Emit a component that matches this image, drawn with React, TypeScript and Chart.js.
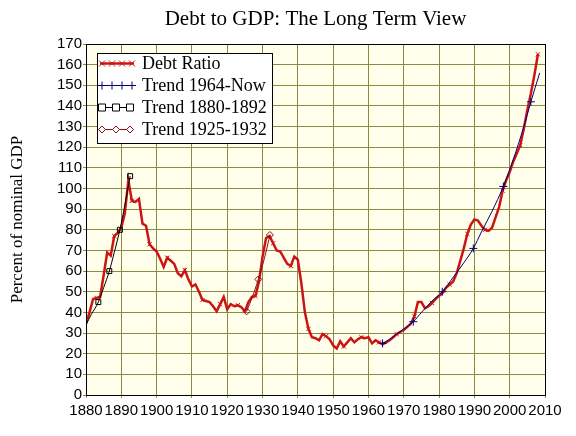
import React, { useEffect, useRef } from "react";
import { Chart, registerables } from "chart.js";

Chart.register(...registerables);

// Federal debt as a percent of nominal GDP
const debtYears = [
  1880, 1881, 1882, 1883, 1884, 1885, 1886, 1887, 1888, 1889,
  1890, 1891, 1892, 1893, 1894, 1895, 1896, 1897, 1898, 1899,
  1900, 1901, 1902, 1903, 1904, 1905, 1906, 1907, 1908, 1909,
  1910, 1911, 1912, 1913, 1914, 1915, 1916, 1917, 1918, 1919,
  1920, 1921, 1922, 1923, 1924, 1925, 1926, 1927, 1928, 1929,
  1930, 1931, 1932, 1933, 1934, 1935, 1936, 1937, 1938, 1939,
  1940, 1941, 1942, 1943, 1944, 1945, 1946, 1947, 1948, 1949,
  1950, 1951, 1952, 1953, 1954, 1955, 1956, 1957, 1958, 1959,
  1960, 1961, 1962, 1963, 1964, 1965, 1966, 1967, 1968, 1969,
  1970, 1971, 1972, 1973, 1974, 1975, 1976, 1977, 1978, 1979,
  1980, 1981, 1982, 1983, 1984, 1985, 1986, 1987, 1988, 1989,
  1990, 1991, 1992, 1993, 1994, 1995, 1996, 1997, 1998, 1999,
  2000, 2001, 2002, 2003, 2004, 2005, 2006, 2007, 2008,
];
const debtRatio = [
  34.5, 40, 46.5, 47, 47.5, 58, 69, 67.5, 77, 78.5,
  81, 88, 104, 94, 93.5, 95, 83, 82, 73, 71,
  69.5, 66, 62, 66.5, 65, 63.5, 59, 57.5, 60.5, 56,
  52.5, 53.5, 50, 46, 45.5, 45, 43, 40.5, 44, 47.5,
  41.5, 44, 43, 43.5, 42.5, 40.5, 45, 47.5, 48, 55,
  67, 76, 77, 73.5, 70, 69.5, 66.5, 63.5, 62.5, 67,
  65.5, 54, 40, 32, 28, 27.5, 26.5, 29.5, 28.5, 27,
  24, 22.5, 26, 23.5, 25.5, 27.5, 25.5, 27, 28, 27.5,
  28, 25, 26.5, 25.5, 24.5, 25.5, 26.5, 28, 29.5, 30.5,
  31.5, 33, 34.5, 38, 45, 45, 42, 43, 44.5, 46.5,
  48, 49.5, 52, 53.5, 55, 59, 65, 71, 78, 82.5,
  85, 84.5, 82, 80, 79.5, 81, 86, 91, 99, 104,
  108, 113, 117, 121, 129, 138, 146, 155, 165,
];

// Fitted trend, 1964 to the present
const trendNowYears = [1964, 1966, 1968, 1970, 1972.7, 1975, 1978, 1980.9, 1984, 1987, 1989.7, 1992, 1995, 1998.2, 2001, 2004, 2006, 2008.5];
const trendNowValues = [25, 27, 29.5, 32, 35.5, 40, 45.5, 50, 57, 64, 71, 79, 89, 101, 114, 130, 142, 156];
const trendNowMarks = [1964, 1972.7, 1980.9, 1989.7, 1998.2, 2006];

// Fitted trend, 1880 to 1892
const trend1880Years = [1880, 1881.5, 1883.5, 1885, 1886.6, 1888, 1889.6, 1891, 1892.5];
const trend1880Values = [34, 39, 45, 52, 60, 69, 80, 92, 106];
const trend1880Marks = [1883.5, 1886.6, 1889.6, 1892.5];

// Fitted trend, 1925 to 1932
const trend1925Years = [1925.5, 1927, 1928.8, 1930.5, 1932.1];
const trend1925Values = [40.5, 47, 56, 66, 77.5];
const trend1925Marks = [1925.5, 1928.8, 1932.1];

const xTicks = [1880, 1890, 1900, 1910, 1920, 1930, 1940, 1950, 1960, 1970, 1980, 1990, 2000, 2010];

const chartTitle = "Debt to GDP: The Long Term View";
const yTitle = "Percent of nominal GDP";
const legendLabels = ["Debt Ratio", "Trend 1964-Now", "Trend 1880-1892", "Trend 1925-1932"];

const RED = "#CC1414";
const NAVY = "#00007A";
const MAROON = "#8A1010";
const GRID = "#8C8A3C";
const PLOT_BG = "#FFFFEC";
const SERIF = "'Liberation Serif', 'Times New Roman', serif";
const SANS = "'Liberation Sans', Arial, sans-serif";

const toPoints = (xs: number[], ys: number[]) => xs.map((x, i) => ({ x, y: ys[i] }));

function drawMarker(ctx: CanvasRenderingContext2D, kind: string, x: number, y: number, color: string) {
  ctx.save();
  ctx.strokeStyle = color;
  ctx.lineWidth = 1;
  ctx.beginPath();
  if (kind === "x") {
    ctx.moveTo(x - 3, y - 3); ctx.lineTo(x + 3, y + 3);
    ctx.moveTo(x + 3, y - 3); ctx.lineTo(x - 3, y + 3);
  } else if (kind === "+") {
    ctx.moveTo(x - 4, y); ctx.lineTo(x + 4, y);
    ctx.moveTo(x, y - 4); ctx.lineTo(x, y + 4);
  } else if (kind === "square") {
    ctx.fillStyle = "#ffffff";
    ctx.rect(x - 3.5, y - 3.5, 7, 7);
    ctx.fill();
  } else if (kind === "diamond") {
    ctx.fillStyle = "#ffffff";
    ctx.moveTo(x, y - 3.5); ctx.lineTo(x + 3.5, y); ctx.lineTo(x, y + 3.5); ctx.lineTo(x - 3.5, y); ctx.closePath();
    ctx.fill();
  }
  ctx.stroke();
  ctx.restore();
}

const frameAndTextPlugin = {
  id: "frameAndText",
  beforeDraw(chart: any) {
    const { ctx, chartArea: a } = chart;
    ctx.save();
    ctx.fillStyle = "#ffffff";
    ctx.fillRect(0, 0, chart.width, chart.height);
    ctx.fillStyle = PLOT_BG;
    ctx.fillRect(a.left, a.top, a.right - a.left, a.bottom - a.top);
    ctx.restore();
  },
  afterDraw(chart: any) {
    const { ctx, chartArea: a } = chart;
    ctx.save();
    // plot frame
    ctx.strokeStyle = "#000000";
    ctx.lineWidth = 1;
    ctx.strokeRect(Math.round(a.left) + 0.5, Math.round(a.top) + 0.5, Math.round(a.right - a.left), Math.round(a.bottom - a.top));

    // title
    ctx.fillStyle = "#000000";
    ctx.font = `21px ${SERIF}`;
    ctx.textAlign = "center";
    ctx.textBaseline = "middle";
    ctx.fillText(chartTitle, (a.left + a.right) / 2, 19);

    // legend box
    const bx = 97, by = 53, bw = 175, bh = 90;
    ctx.fillStyle = "#ffffff";
    ctx.fillRect(bx, by, bw, bh);
    ctx.strokeStyle = "#000000";
    ctx.strokeRect(bx + 0.5, by + 0.5, bw, bh);

    const rows = [
      { color: RED, width: 2.5, marker: "x", marks: [102, 112, 122, 132] },
      { color: NAVY, width: 1, marker: "+", marks: [102, 112, 122, 132] },
      { color: "#000000", width: 1, marker: "square", marks: [102, 116, 130] },
      { color: MAROON, width: 1, marker: "diamond", marks: [102, 116, 130] },
    ];
    rows.forEach((r, i) => {
      const y = by + 10.5 + i * 22;
      ctx.strokeStyle = r.color;
      ctx.lineWidth = r.width;
      ctx.beginPath();
      ctx.moveTo(100, y);
      ctx.lineTo(134, y);
      ctx.stroke();
      r.marks.forEach((mx) => drawMarker(ctx, r.marker, mx, y, r.color));
      ctx.fillStyle = "#000000";
      ctx.font = `18px ${SERIF}`;
      ctx.textAlign = "left";
      ctx.textBaseline = "middle";
      ctx.fillText(legendLabels[i], 142, y + 1);
    });
    ctx.restore();
  },
};

export default function App() {
  const canvasRef = useRef<HTMLCanvasElement | null>(null);

  useEffect(() => {
    const canvas = canvasRef.current;
    if (!canvas) return;

    const markAt = (marks: number[], r: number) => (c: any) => (c.raw && marks.includes(c.raw.x) ? r : 0);

    const chart = new Chart(canvas, {
      type: "line",
      data: {
        datasets: [
          {
            label: legendLabels[1],
            data: toPoints(trendNowYears, trendNowValues),
            borderColor: NAVY,
            borderWidth: 1,
            cubicInterpolationMode: "monotone",
            pointStyle: "cross",
            pointRadius: markAt(trendNowMarks, 4),
            pointBorderColor: NAVY,
            pointBorderWidth: 1,
            order: 0,
          },
          {
            label: legendLabels[2],
            data: toPoints(trend1880Years, trend1880Values),
            borderColor: "#000000",
            borderWidth: 1,
            cubicInterpolationMode: "monotone",
            pointStyle: "rect",
            pointRadius: markAt(trend1880Marks, 3.5),
            pointBorderColor: "#000000",
            pointBackgroundColor: "rgba(255,255,255,0)",
            pointBorderWidth: 1,
            order: 0,
          },
          {
            label: legendLabels[3],
            data: toPoints(trend1925Years, trend1925Values),
            borderColor: MAROON,
            borderWidth: 1,
            cubicInterpolationMode: "monotone",
            pointStyle: "rectRot",
            pointRadius: markAt(trend1925Marks, 3.5),
            pointBorderColor: MAROON,
            pointBackgroundColor: "rgba(255,255,255,0)",
            pointBorderWidth: 1,
            order: 0,
          },
          {
            label: legendLabels[0],
            data: toPoints(debtYears, debtRatio),
            borderColor: RED,
            borderWidth: 2.5,
            tension: 0,
            pointStyle: "crossRot",
            pointRadius: (c: any) => (c.dataIndex % 5 === 3 ? 3 : 0),
            pointBorderColor: RED,
            pointBorderWidth: 1,
            order: 1,
          },
        ],
      },
      options: {
        responsive: false,
        animation: false,
        devicePixelRatio: 1,
        layout: { padding: { top: 44, right: 31, left: 0, bottom: 0 } },
        plugins: {
          legend: { display: false },
          title: { display: false },
          tooltip: { enabled: false },
        },
        scales: {
          x: {
            type: "linear",
            min: 1880,
            max: 2010,
            afterBuildTicks: (scale: any) => {
              scale.ticks = xTicks.map((v) => ({ value: v }));
            },
            afterFit: (scale: any) => {
              scale.height = 41;
            },
            grid: { color: GRID, lineWidth: 1, tickLength: 3, drawTicks: true },
            border: { display: true, color: "#000000" },
            ticks: {
              color: "#000000",
              font: { family: SANS, size: 15 },
              padding: 4,
              maxRotation: 0,
              autoSkip: false,
              callback: (v: any) => String(v),
            },
          },
          y: {
            type: "linear",
            min: 0,
            max: 170,
            afterFit: (scale: any) => {
              scale.width = 86;
            },
            grid: { color: GRID, lineWidth: 1, tickLength: 3, drawTicks: true },
            border: { display: true, color: "#000000" },
            ticks: {
              stepSize: 10,
              color: "#000000",
              font: { family: SANS, size: 15 },
              padding: 1,
              autoSkip: false,
            },
            title: {
              display: true,
              text: yTitle,
              color: "#000000",
              font: { family: SERIF, size: 17 },
              padding: { top: 7, bottom: 0 },
            },
          },
        },
      },
      plugins: [frameAndTextPlugin],
    } as any);

    return () => chart.destroy();
  }, []);

  return (
    <div style={{ position: "fixed", left: 0, top: 0, width: 576, height: 436, background: "#ffffff" }}>
      <canvas ref={canvasRef} width={576} height={436} />
    </div>
  );
}
